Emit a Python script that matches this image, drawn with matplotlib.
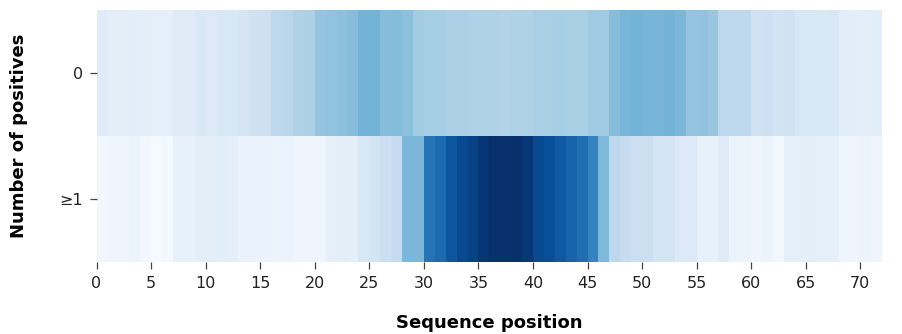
import numpy as np
import matplotlib
matplotlib.use("Agg")
import matplotlib.pyplot as plt

row_labels = ["0", "≥1"]
tick_positions = list(range(0, 71, 5))

# Row "0" intensity per sequence position (0..71)
row_zero = [0.12, 0.10, 0.10, 0.11, 0.10, 0.09, 0.09, 0.12, 0.12,
            0.15, 0.14, 0.15, 0.16, 0.17, 0.20, 0.21, 0.27, 0.29,
            0.32, 0.33, 0.40, 0.41, 0.42, 0.43, 0.48, 0.48,
            0.43, 0.44, 0.42, 0.36, 0.35, 0.35, 0.33, 0.33, 0.32, 0.32,
            0.32, 0.31, 0.32, 0.32, 0.34, 0.34, 0.35, 0.34, 0.34, 0.37, 0.37,
            0.43, 0.47, 0.48, 0.47, 0.47, 0.48, 0.46,
            0.40, 0.41, 0.39, 0.28, 0.28, 0.27,
            0.20, 0.21, 0.19, 0.20, 0.16, 0.16, 0.15, 0.16,
            0.11, 0.11, 0.10, 0.11]

# Row "≥1" intensity per sequence position (0..71)
row_pos = [0.03, 0.05, 0.05, 0.06, 0.02, 0.01, 0.02, 0.08, 0.08, 0.10,
           0.10, 0.11, 0.10, 0.07, 0.07, 0.07, 0.06, 0.07, 0.05, 0.05,
           0.05, 0.09, 0.10, 0.09, 0.16, 0.18, 0.22, 0.25,
           0.46, 0.46, 0.74, 0.77, 0.85, 0.90, 0.93,
           0.98, 1.00, 0.99, 1.00, 0.97, 0.90, 0.88, 0.84, 0.80, 0.76,
           0.68, 0.45, 0.28, 0.24, 0.22, 0.22, 0.18, 0.18, 0.14, 0.14,
           0.08, 0.08, 0.12, 0.06, 0.06, 0.05, 0.06, 0.03, 0.09, 0.09,
           0.10, 0.09, 0.09, 0.05, 0.05, 0.06, 0.05]

data = np.array([row_zero, row_pos])

fig = plt.figure(figsize=(9.02, 3.34), dpi=100)
ax = fig.add_axes([0.107, 0.2156, 0.871, 0.754])
ax.pcolormesh(np.arange(data.shape[1] + 1), np.arange(3), data,
              cmap="Blues", vmin=0, vmax=1, shading="flat")
ax.set_xlim(0, data.shape[1])
ax.set_ylim(2, 0)
ax.set_xticks(tick_positions)
ax.set_xticklabels([str(p) for p in tick_positions], fontsize=11.5)
ax.set_yticks([0.5, 1.5])
ax.set_yticklabels(row_labels, fontsize=11.5, rotation=0)
for s in ax.spines.values():
    s.set_visible(False)
ax.tick_params(axis="both", length=5, width=0.9, pad=5,
               color="#444444", labelcolor="#222222")
ax.set_xlabel("Sequence position", fontsize=13, fontweight="bold", labelpad=17)
ax.set_ylabel("Number of positives", fontsize=13, fontweight="bold", labelpad=22)
fig.savefig("out.png", dpi=100)
